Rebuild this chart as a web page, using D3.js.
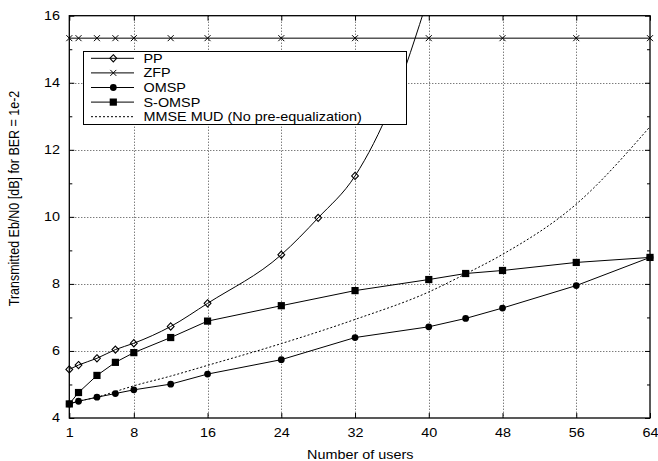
<!DOCTYPE html>
<html>
<head>
<meta charset="utf-8">
<script src="https://cdn.jsdelivr.net/npm/d3@7"></script>
<style>
  body { margin: 0; background: #fff; }
  text { font-family: "Liberation Sans", Arial, sans-serif; fill: #000; }
</style>
</head>
<body>
<div id="viz"></div>
<script>
// data
const users = [1, 2, 4, 6, 8, 12, 16, 24, 32, 40, 48, 56, 64];
const zfp = [15.33, 15.33, 15.33, 15.33, 15.33, 15.33, 15.33, 15.33, 15.33, 15.33, 15.33, 15.33, 15.33];

const ppUsers = [1, 2, 4, 6, 8, 12, 16, 24, 28, 32, 36, 40];
const pp = [5.45, 5.58, 5.78, 6.04, 6.23, 6.73, 7.42, 8.87, 9.97, 11.22, 13.39, 16.6];

const omspUsers = [1, 2, 4, 6, 8, 12, 16, 24, 32, 40, 44, 48, 56, 64];
const omsp = [4.42, 4.50, 4.62, 4.73, 4.84, 5.01, 5.31, 5.74, 6.40, 6.72, 6.97, 7.28, 7.95, 8.79];
const somsp = [4.42, 4.76, 5.27, 5.66, 5.95, 6.40, 6.89, 7.35, 7.80, 8.13, 8.31, 8.40, 8.64, 8.79];

const mmseUsers = [1, 2, 4, 6, 8, 12, 16, 24, 32, 40, 44, 48, 56, 64];
const mmse = [4.42, 4.50, 4.62, 4.79, 4.96, 5.25, 5.57, 6.22, 6.94, 7.76, 8.30, 8.88, 10.38, 12.69];

const xTicks = [1, 8, 16, 24, 32, 40, 48, 56, 64];
const yTicks = [4, 6, 8, 10, 12, 14, 16];
const yMinor = [5, 7, 9, 11, 13, 15];
const legendNames = ["PP", "ZFP", "OMSP", "S-OMSP", "MMSE MUD (No pre-equalization)"];

const w = 658, h = 461;
const mLeft = 69.3, mRight = 650, mTop = 15.7, mBottom = 418;
const stretch = 1.2; // the figure's text is wider than it is tall

const svg = d3.select("#viz").append("svg")
  .attr("width", w)
  .attr("height", h);

const x = d3.scaleLinear().domain([1, 64]).range([mLeft, mRight]);
const y = d3.scaleLinear().domain([4, 16]).range([mBottom, mTop]);

const defs = svg.append("defs");
defs.append("clipPath").attr("id", "clip")
  .append("rect")
  .attr("x", mLeft).attr("y", mTop)
  .attr("width", mRight - mLeft).attr("height", mBottom - mTop);
defs.append("clipPath").attr("id", "clipM")
  .append("rect").attr("x", mLeft - 6).attr("y", mTop).attr("width", mRight - mLeft + 12).attr("height", mBottom - mTop + 6);

// grid
const grid = svg.append("g").attr("stroke", "#444").attr("stroke-width", 1).attr("stroke-dasharray", "1,2");
grid.selectAll(".gx").data(xTicks.slice(1, -1)).enter().append("line")
  .attr("x1", d => Math.round(x(d)) + 0.5).attr("x2", d => Math.round(x(d)) + 0.5)
  .attr("y1", mTop).attr("y2", mBottom);
grid.selectAll(".gy").data(yTicks.slice(1, -1)).enter().append("line")
  .attr("y1", d => Math.round(y(d)) + 0.5).attr("y2", d => Math.round(y(d)) + 0.5)
  .attr("x1", mLeft).attr("x2", mRight);

// axes (ticks drawn inward)
const axB = svg.append("g").attr("transform", `translate(0,${mBottom})`)
  .call(d3.axisBottom(x).tickValues(xTicks).tickSizeInner(-5).tickSizeOuter(0).tickPadding(10));
svg.append("g").attr("transform", `translate(0,${mTop})`)
  .call(d3.axisTop(x).tickValues(xTicks).tickSizeInner(-5).tickSizeOuter(0).tickFormat(""));
const axL = svg.append("g").attr("transform", `translate(${mLeft},0)`)
  .call(d3.axisLeft(y).tickValues(yTicks).tickSizeInner(-5).tickSizeOuter(0));
svg.append("g").attr("transform", `translate(${mRight},0)`)
  .call(d3.axisRight(y).tickValues(yTicks).tickSizeInner(-5).tickSizeOuter(0).tickFormat(""));
svg.append("g").attr("transform", `translate(${mLeft},0)`)
  .call(d3.axisLeft(y).tickValues(yMinor).tickSizeInner(-3).tickSizeOuter(0).tickFormat(""));
svg.append("g").attr("transform", `translate(${mRight},0)`)
  .call(d3.axisRight(y).tickValues(yMinor).tickSizeInner(-3).tickSizeOuter(0).tickFormat(""));
svg.selectAll(".domain").remove();
svg.selectAll(".tick text").style("font-size", "12px").style("font-family", "Liberation Sans, Arial, sans-serif");
svg.selectAll(".tick line").attr("stroke", "#000");
axB.selectAll(".tick text").attr("transform", `scale(${stretch},1)`);
axL.selectAll(".tick text").attr("x", -9.3 / stretch).attr("transform", `scale(${stretch},1)`);

// frame
svg.append("rect")
  .attr("x", mLeft).attr("y", mTop)
  .attr("width", mRight - mLeft).attr("height", mBottom - mTop)
  .attr("fill", "none").attr("stroke", "#000").attr("stroke-width", 1.3);

// lines
const plot = svg.append("g").attr("clip-path", "url(#clip)");
const line = d3.line().x(d => x(d[0])).y(d => y(d[1]));
const smooth = d3.line().x(d => x(d[0])).y(d => y(d[1])).curve(d3.curveMonotoneX);

const zip = (a, b) => a.map((v, i) => [v, b[i]]);

plot.append("path").datum(zip(ppUsers, pp)).attr("d", smooth)
  .attr("fill", "none").attr("stroke", "#000").attr("stroke-width", 1);
plot.append("path").datum(zip(users, zfp)).attr("d", line)
  .attr("fill", "none").attr("stroke", "#000").attr("stroke-width", 1);
plot.append("path").datum(zip(omspUsers, omsp)).attr("d", line)
  .attr("fill", "none").attr("stroke", "#000").attr("stroke-width", 1);
plot.append("path").datum(zip(omspUsers, somsp)).attr("d", line)
  .attr("fill", "none").attr("stroke", "#000").attr("stroke-width", 1);
plot.append("path").datum(zip(mmseUsers, mmse)).attr("d", smooth)
  .attr("fill", "none").attr("stroke", "#000").attr("stroke-width", 1).attr("stroke-dasharray", "2,2");

// markers
function diamond(g, cx, cy) {
  g.append("path").attr("d", "M0,-3.6L3.4,0L0,3.6L-3.4,0Z")
    .attr("transform", `translate(${cx},${cy})`)
    .attr("fill", "none").attr("stroke", "#000").attr("stroke-width", 1.1);
}
function cross(g, cx, cy) {
  g.append("path").attr("d", "M-3,-3L3,3M-3,3L3,-3")
    .attr("transform", `translate(${cx},${cy})`)
    .attr("stroke", "#000").attr("stroke-width", 1);
}
function dot(g, cx, cy) {
  g.append("circle").attr("cx", cx).attr("cy", cy).attr("r", 3.4).attr("fill", "#000");
}
function square(g, cx, cy) {
  g.append("rect").attr("x", cx - 3.6).attr("y", cy - 3.6).attr("width", 7.2).attr("height", 7.2).attr("fill", "#000");
}

const marks = svg.append("g").attr("clip-path", "url(#clipM)");
ppUsers.forEach((u, i) => { if (pp[i] <= 16) diamond(marks, x(u), y(pp[i])); });
users.forEach((u, i) => cross(marks, x(u), y(zfp[i])));
omspUsers.forEach((u, i) => dot(marks, x(u), y(omsp[i])));
omspUsers.forEach((u, i) => square(marks, x(u), y(somsp[i])));

// legend
const lg = svg.append("g");
lg.append("rect").attr("x", 83.5).attr("y", 51.5).attr("width", 323).attr("height", 73)
  .attr("fill", "#fff").attr("stroke", "#000").attr("stroke-width", 1);
const markFns = [diamond, cross, dot, square, null];
legendNames.forEach((name, i) => {
  const ly = 58.3 + i * 14.6;
  lg.append("line").attr("x1", 91).attr("x2", 134).attr("y1", ly).attr("y2", ly)
    .attr("stroke", "#000").attr("stroke-width", 1)
    .attr("stroke-dasharray", i === 4 ? "2,2" : null);
  if (markFns[i]) markFns[i](lg, 113.3, ly);
  lg.append("text").attr("transform", `translate(143.5,${ly + 4.4}) scale(${stretch},1)`)
    .style("font-size", "12px").text(name);
});

// axis titles
svg.append("text").attr("transform", `translate(360.3,459) scale(${stretch},1)`)
  .attr("text-anchor", "middle").style("font-size", "12px").text("Number of users");
svg.append("text").attr("transform", `translate(19,198.5) rotate(-90) scale(1.04,${stretch})`)
  .attr("text-anchor", "middle").style("font-size", "12px")
  .text("Transmitted Eb/N0 [dB] for BER = 1e-2");
</script>
</body>
</html>
